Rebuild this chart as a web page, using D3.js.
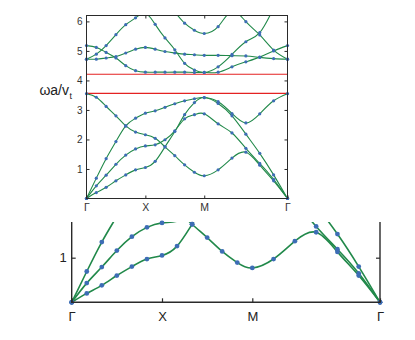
<!DOCTYPE html>
<html>
<head>
<meta charset="utf-8">
<script src="https://cdn.jsdelivr.net/npm/d3@7"></script>
<style>
body { margin: 0; background: #fff; }
svg { display: block; font-family: "Liberation Sans", Arial, sans-serif; }
</style>
</head>
<body>
<div id="chart"></div>
<script>
// band structure along Γ-X-M-Γ, 6 steps per segment -> 19 sampled wave vectors
var kLabels = ['Γ', 'X', 'M', 'Γ'];
var yTicksTop = [1, 2, 3, 4, 5, 6];
var yTicksBottom = [1];
var gapEdges = [3.56, 4.21];

// lower group (below the gap)
var band1 = [0, 0.20, 0.38, 0.60, 0.80, 0.97, 1.05, 1.26, 1.75, 2.27, 2.84, 3.25, 3.42, 3.22, 2.80, 2.18, 1.53, 0.80, 0];
var band2 = [0, 0.43, 0.79, 1.16, 1.47, 1.68, 1.78, 1.82, 1.99, 2.29, 2.70, 2.84, 2.87, 2.53, 2.22, 1.70, 1.19, 0.65, 0];
var band3 = [0, 0.69, 1.35, 1.93, 2.46, 2.72, 2.89, 2.97, 3.09, 3.21, 3.31, 3.38, 3.42, 3.28, 2.88, 2.56, 2.87, 3.31, 3.55];
var band4 = [3.55, 3.43, 3.12, 2.80, 2.46, 2.25, 2.16, 2.04, 1.75, 1.45, 1.14, 0.89, 0.77, 0.97, 1.37, 1.57, 1.13, 0.60, 0];
// upper group (above the gap), null = off the chart
var band5 = [5.18, 5.12, 4.95, 4.76, 4.50, 4.33, 4.28, 4.28, 4.28, 4.28, 4.28, 4.27, 4.27, 4.28, 4.46, 4.63, 4.79, 5.00, 5.18];
var band6 = [4.72, 4.72, 4.76, 4.81, 4.93, 5.06, 5.12, 5.06, 4.98, 4.93, 4.89, 4.87, 4.85, 4.85, 4.84, 4.83, 4.78, 4.74, 4.72];
var band7 = [4.72, 4.89, 5.18, 5.55, 5.89, 6.12, 6.28, 5.90, 5.44, 5.04, 4.58, 4.35, 4.27, 4.46, 4.88, 5.31, 5.62, 6.45, null];
var band8 = [null, null, null, null, null, null, null, null, null, 6.32, 5.94, 5.70, 5.59, 5.82, 6.35, 5.99, 5.54, 5.03, 4.72];

var bands = [band1, band2, band3, band4, band5, band6, band7, band8];

var kNodes = [0, 1, 2, 2 + Math.SQRT2];
function kAt(i) {
	if (i <= 12) return i / 6;
	return 2 + (i - 12) / 6 * Math.SQRT2;
}

var lineColor = '#21894a',
	dotColor = '#3d6db5',
	axisColor = '#2a2a2a';

var svg = d3.select('#chart').append('svg')
	.attr('width', 415)
	.attr('height', 340);

function drawBands(g, x, y, vMax, lw, r, clipId) {
	var line = d3.line()
		.defined(function(d) { return d.v != null; })
		.x(function(d) { return x(d.k); })
		.y(function(d) { return y(d.v); })
		.curve(d3.curveNatural);

	var pts = bands.map(function(b) {
		return b.map(function(v, i) { return {k: kAt(i), v: v}; });
	});

	g.append('g').attr('clip-path', 'url(#' + clipId + ')')
		.selectAll('path').data(pts).enter().append('path')
		.attr('d', line)
		.attr('fill', 'none')
		.attr('stroke', lineColor)
		.attr('stroke-width', lw);

	var dots = [];
	pts.forEach(function(b) {
		b.forEach(function(d) { if (d.v != null && d.v <= vMax + 0.01) dots.push(d); });
	});
	g.append('g').selectAll('circle').data(dots).enter().append('circle')
		.attr('cx', function(d) { return x(d.k); })
		.attr('cy', function(d) { return y(d.v); })
		.attr('r', r)
		.attr('fill', dotColor);
}

// ---------- top panel: full band structure ----------
var xT = d3.scaleLinear().domain([0, 2 + Math.SQRT2]).range([86.5, 287.5]),
	yT = d3.scaleLinear().domain([0, 6.2]).range([198.5, 15.5]);

var defs = svg.append('defs');
defs.append('clipPath').attr('id', 'clipTop').append('rect')
	.attr('x', 80).attr('y', 15.5).attr('width', 215).attr('height', 190);
defs.append('clipPath').attr('id', 'clipBottom').append('rect')
	.attr('x', 65).attr('y', 222).attr('width', 325).attr('height', 90);

var gTop = svg.append('g');

gTop.selectAll('.gap').data(gapEdges).enter().append('line')
	.attr('x1', xT(0)).attr('x2', xT(2 + Math.SQRT2))
	.attr('y1', function(d) { return yT(d); })
	.attr('y2', function(d) { return yT(d); })
	.attr('stroke', '#e42222')
	.attr('stroke-width', 1.2);

drawBands(gTop, xT, yT, 6.2, 1.1, 1.6, 'clipTop');

gTop.append('rect')
	.attr('x', xT(0)).attr('y', yT(6.2))
	.attr('width', xT(2 + Math.SQRT2) - xT(0))
	.attr('height', yT(0) - yT(6.2))
	.attr('fill', 'none').attr('stroke', axisColor).attr('stroke-width', 1);

var axL = gTop.append('g').attr('transform', 'translate(' + xT(0) + ',0)')
	.call(d3.axisLeft(yT).tickValues(yTicksTop).tickSize(-3).tickPadding(4).tickFormat(d3.format('d')));
var axR = gTop.append('g').attr('transform', 'translate(' + xT(2 + Math.SQRT2) + ',0)')
	.call(d3.axisRight(yT).tickValues(yTicksTop).tickSize(-3).tickFormat(''));
var axB = gTop.append('g').attr('transform', 'translate(0,' + yT(0) + ')')
	.call(d3.axisBottom(xT).tickValues(kNodes).tickSize(-3).tickPadding(5)
		.tickFormat(function(d, i) { return kLabels[i]; }));
var axT = gTop.append('g').attr('transform', 'translate(0,' + yT(6.2) + ')')
	.call(d3.axisTop(xT).tickValues(kNodes.slice(1, 3)).tickSize(-3).tickFormat(''));

[axL, axR, axB, axT].forEach(function(a) {
	a.select('.domain').remove();
	a.selectAll('line').attr('stroke', axisColor);
	a.selectAll('text').attr('fill', '#333').style('font-size', '10px');
});
axB.selectAll('text').style('font-size', '10.5px');

gTop.append('text')
	.attr('x', 69).attr('y', 95)
	.attr('text-anchor', 'end')
	.attr('fill', '#222')
	.style('font-size', '14px')
	.text('ωa/v');
gTop.append('text')
	.attr('x', 69.5).attr('y', 99)
	.attr('fill', '#222')
	.style('font-size', '9px')
	.text('t');

// ---------- bottom panel: zoom on the low-frequency part ----------
var xB = d3.scaleLinear().domain([0, 2 + Math.SQRT2]).range([71.7, 380]),
	yB = d3.scaleLinear().domain([0, 1.8]).range([302.3, 222]);

var gBot = svg.append('g');

drawBands(gBot, xB, yB, 1.8, 1.6, 2.4, 'clipBottom');

gBot.append('path')
	.attr('d', 'M' + xB(0) + ',' + yB(1.8) + 'V' + yB(0) + 'H' + xB(2 + Math.SQRT2) + 'V' + yB(1.8))
	.attr('fill', 'none').attr('stroke', axisColor).attr('stroke-width', 1.4);

var bL = gBot.append('g').attr('transform', 'translate(' + xB(0) + ',0)')
	.call(d3.axisLeft(yB).tickValues(yTicksBottom).tickSize(-4).tickPadding(5).tickFormat(d3.format('d')));
var bR = gBot.append('g').attr('transform', 'translate(' + xB(2 + Math.SQRT2) + ',0)')
	.call(d3.axisRight(yB).tickValues(yTicksBottom).tickSize(-4).tickFormat(''));
var bB = gBot.append('g').attr('transform', 'translate(0,' + yB(0) + ')')
	.call(d3.axisBottom(xB).tickValues(kNodes).tickSize(-4).tickPadding(9)
		.tickFormat(function(d, i) { return kLabels[i]; }));

[bL, bR, bB].forEach(function(a) {
	a.select('.domain').remove();
	a.selectAll('line').attr('stroke', axisColor).attr('stroke-width', 1.2);
	a.selectAll('text').attr('fill', '#222').style('font-size', '13px');
});
</script>
</body>
</html>
